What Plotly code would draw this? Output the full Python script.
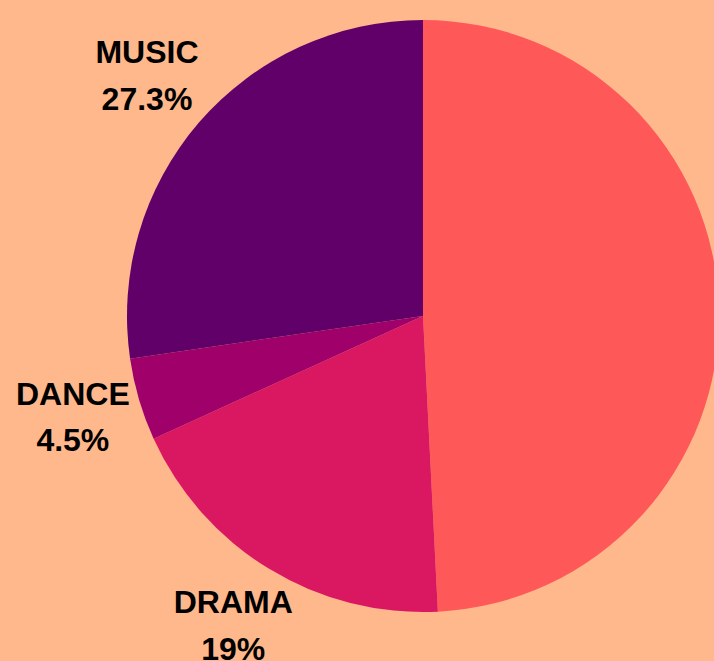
import math
import plotly.graph_objects as go

labels = ["ART", "DRAMA", "DANCE", "MUSIC"]
values = [49.2, 19.0, 4.5, 27.3]
colors = ["#FF5858", "#DA1862", "#A0006A", "#600068"]

total = sum(values)
percents = [v / total * 100 for v in values]
pct_text = [f"{p:.3g}%" for p in percents]

# mid angle of each slice (clockwise from 12 o'clock), same convention as the pie
mid_theta = []
acc = 0.0
for v in values:
    mid_theta.append((acc + v / 2) / total * 2 * math.pi)
    acc += v

label_text = [
    f"<span style='font-size:32px'>{lab}</span><br><span style='font-size:32px'>{pt}</span>"
    for lab, pt in zip(labels, pct_text)
]
LABEL_RADIUS = 1.233  # in units of the pie radius
label_x = [LABEL_RADIUS * math.sin(t) for t in mid_theta]
label_y = [LABEL_RADIUS * math.cos(t) for t in mid_theta]

W, H = 846, 661
PIE_TOP, PIE_R = 20, 296
cx, cy = W / 2, PIE_TOP + PIE_R

fig = go.Figure()
fig.add_trace(
    go.Pie(
        labels=labels,
        values=values,
        sort=False,
        direction="clockwise",
        rotation=0,
        automargin=False,
        domain=dict(x=[0, 1], y=[(H - PIE_TOP - 2 * PIE_R) / H, (H - PIE_TOP) / H]),
        marker=dict(colors=colors, line=dict(width=0)),
        textinfo="none",
        showlegend=False,
        hoverinfo="label+percent",
    )
)
fig.add_trace(
    go.Scatter(
        x=label_x,
        y=label_y,
        mode="text",
        text=label_text,
        textposition="middle center",
        textfont=dict(family="Liberation Sans, Arial, sans-serif", size=36, color="black", weight="bold"),
        cliponaxis=False,
        showlegend=False,
        hoverinfo="skip",
    )
)

fig.update_layout(
    width=W,
    height=H,
    margin=dict(l=0, r=0, t=0, b=0, pad=0, autoexpand=False),
    paper_bgcolor="#FFB88B",
    plot_bgcolor="rgba(0,0,0,0)",
    xaxis=dict(range=[-cx / PIE_R, (W - cx) / PIE_R], visible=False, showgrid=False, zeroline=False, fixedrange=True),
    yaxis=dict(range=[-(H - cy) / PIE_R, cy / PIE_R], visible=False, showgrid=False, zeroline=False, fixedrange=True),
)

fig.write_html(
    "out.html",
    config={"displayModeBar": False},
    post_script="document.documentElement.style.overflow='hidden';document.body.style.margin='0';document.body.style.overflow='hidden';",
)
